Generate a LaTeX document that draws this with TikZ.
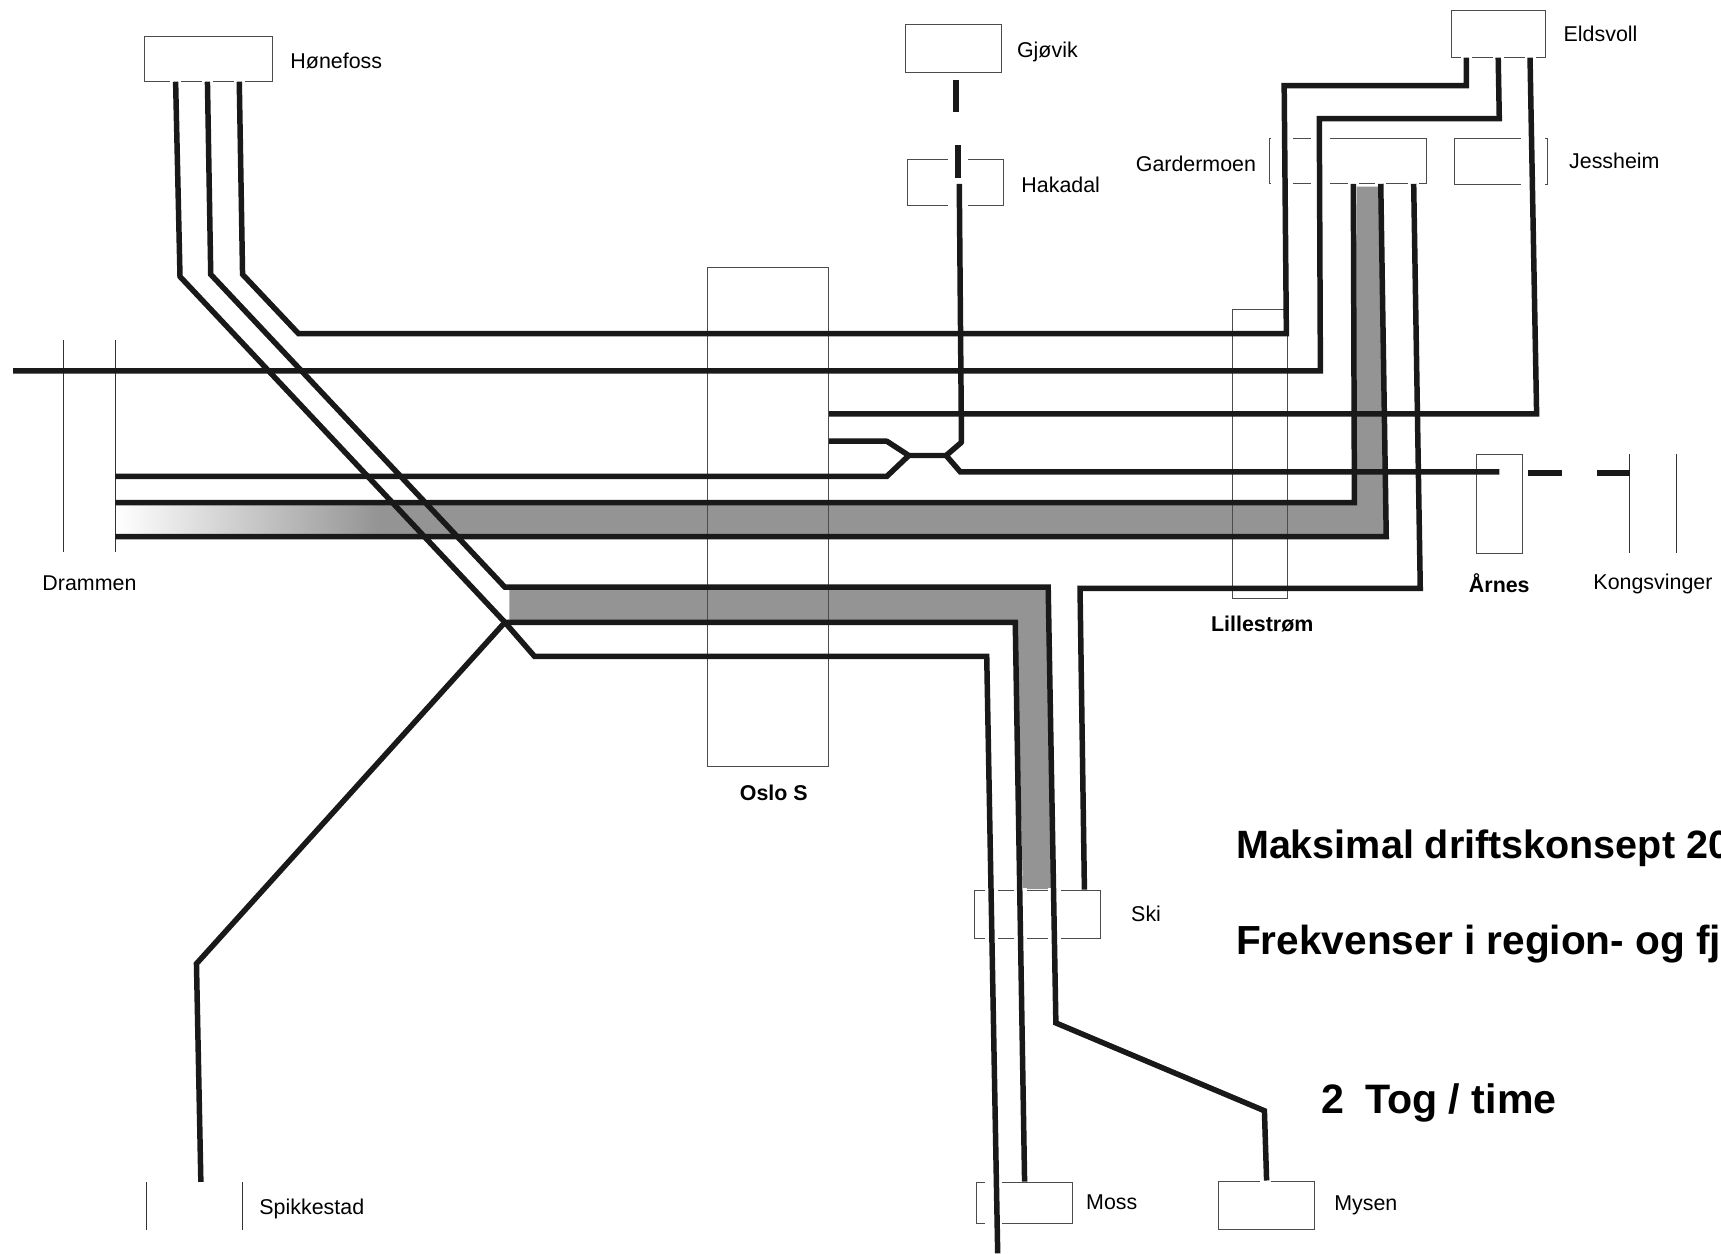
\documentclass[tikz,border=0pt]{standalone}
\usepackage{fontspec}
\setmainfont{Liberation Sans}
\usetikzlibrary{positioning,calc}

\begin{document}
\begin{tikzpicture}[
  x=1pt, y=-1pt,
  font=\fontsize{19.5}{23}\selectfont,
  stn/.style 2 args={draw=black!70, line width=0.9pt, rectangle, inner sep=0pt, minimum width=#1pt, minimum height=#2pt},
  stnopen/.style 2 args={rectangle, inner sep=0pt, minimum width=#1pt, minimum height=#2pt},
  stnside/.style={draw=black!80, line width=1pt},
  rail/.style={draw=black!90, line width=5pt},
  band/.style={fill=black!42},
  lbl/.style={inner sep=0pt},
  bold lbl/.style={inner sep=0pt, font=\fontsize{19.5}{23}\selectfont\bfseries},
  head/.style={inner sep=0pt, anchor=west, font=\fontsize{#1}{42}\selectfont\bfseries},
  node distance=16pt
]
\useasboundingbox (0,0) rectangle (1568,1142);

% gray double-track bands
\fill[band] (1236,170) -- (1258,170) -- (1263,487) -- (106,487) -- (106,460) -- (1234,460) -- cycle;
\shade[left color=white, right color=black!42] (106,460) rectangle (345,487);
\fill[band] (464,537) -- (955,537) -- (960,810) -- (932,810) -- (926,565) -- (464,565) -- cycle;

% stations
\node[stn={116}{41}] (honefoss) at (190,53.5) {};
\node[stn={87}{44}] (gjovik) at (868.5,44) {};
\node[stn={87}{42}] (hakadal) at (870.5,166) {};
\node[stn={86}{42}] (eldsvoll) at (1365,31) {};
\node[stn={143}{41}] (gardermoen) at (1228.5,146.5) {};
\node[stn={85}{42}] (jessheim) at (1367.5,147) {};
\node[stnopen={47}{193}] (drammen) at (81.5,406.5) {};
\node[stn={110}{454}] (oslos) at (700,471) {};
\node[stn={50}{263}] (lillestrom) at (1148,413.5) {};
\node[stn={42}{90}] (arnes) at (1366,459) {};
\node[stnopen={42}{90}] (kongsvinger) at (1506,459) {};
\node[stn={115}{44}] (ski) at (945.5,833) {};
\node[stn={87}{38}] (moss) at (933.5,1096) {};
\node[stn={88}{44}] (mysen) at (1154,1098) {};
\node[stnopen={87}{43}] (spikkestad) at (177.5,1098.5) {};

\draw[stnside] (drammen.north west) -- (drammen.south west);
\draw[stnside] (drammen.north east) -- (drammen.south east);
\draw[stnside] (kongsvinger.north west) -- (kongsvinger.south west);
\draw[stnside] (kongsvinger.north east) -- (kongsvinger.south east);
\draw[stnside] (spikkestad.north west) -- (spikkestad.south west);
\draw[stnside] (spikkestad.north east) -- (spikkestad.south east);

% breaks in the station edges where the lines pass
\foreach \x/\y/\w in {1168/126/10, 1168/167/10, 1203/126/9, 1203/167/9, 1233/167/5, 1258/167/5, 1288/167/5,
  1397/126/11, 1397/168/11, 873/145/9, 873/187/9, 1336/52/5, 1365/52/5, 1394/52/5,
  160/74/5, 189/74/5, 218/74/5, 903/811/6, 930/811/6, 961/811/6, 903/855/6, 930/855/6, 961/855/6,
  905/1077/8, 905/1115/8, 1153/1076/5}
  \fill[white] (\x-\w,\y-2) rectangle (\x+\w,\y+2);

% labels
\node[lbl, right=16pt of honefoss, yshift=-2pt] (honefosslbl) {Hønefoss};
\node[lbl, right=14pt of gjovik, yshift=-3pt] (gjoviklbl) {Gjøvik};
\node[lbl, right=16pt of hakadal, yshift=-2pt] (hakadallbl) {Hakadal};
\node[lbl, right=16pt of eldsvoll] (eldsvolllbl) {Eldsvoll};
\node[lbl, left=12pt of gardermoen, yshift=-3pt] (gardermoenlbl) {Gardermoen};
\node[lbl, right=19pt of jessheim] (jessheimlbl) {Jessheim};
\node[lbl, below=21pt of drammen] (drammenlbl) {Drammen};
\node[bold lbl, below=17pt of oslos, xshift=5pt] (osloslbl) {Oslo S};
\node[bold lbl, below=16pt of lillestrom, xshift=2pt] (lillestromlbl) {Lillestrøm};
\node[bold lbl, below=18pt of arnes] (arneslbl) {Årnes};
\node[lbl, below=19pt of kongsvinger] (kongsvingerlbl) {Kongsvinger};
\node[lbl, right=27pt of ski] (skilbl) {Ski};
\node[lbl, right=12pt of moss, yshift=1pt] (mosslbl) {Moss};
\node[lbl, right=17pt of mysen] (mysenlbl) {Mysen};
\node[lbl, right=15pt of spikkestad, yshift=-3pt] (spikkestadlbl) {Spikkestad};

\coordinate (split) at (460,567);
\coordinate (midw) at (828,415);
\coordinate (mide) at (862,415);

% lines from Hønefoss
\draw[rail] ($(honefoss.south)+(-30,0)$) -- (164,252) -- (split) -- (487,598) -- (899,598) -- (909,1142);
\draw[rail] ($(honefoss.south)+(-1,0)$) -- (192,250) -- (460,535) -- (955,535) -- (962,932) -- (1152,1012) -- (mysen.north);
\draw[rail] ($(honefoss.south)+(28,0)$) -- (221,250) -- (272,304) -- (1172,304) -- (1170,78) -- (1336,78) -- ($(eldsvoll.south)+(-29,0)$);

% lines from Eldsvoll
\draw[rail] (eldsvoll.south) -- (1366,108) -- (1202,108) -- (1203,338) -- (12,338);
\draw[rail] ($(eldsvoll.south)+(29,0)$) -- (1400,377) -- (oslos.east |- 0,377);

% lines from Gardermoen
\draw[rail] ($(gardermoen.south)+(4.5,0)$) -- (1234,458) -- (drammen.east |- 0,458);
\draw[rail] ($(gardermoen.south)+(29.5,0)$) -- (1263,489) -- (drammen.east |- 0,489);
\draw[rail] ($(gardermoen.south)+(59.5,0)$) -- (1294,536) -- (984,536) -- ($(ski.north)+(42.5,0)$);

% Gjøvik and Hakadal
\draw[rail] ($(gjovik.south)+(2.5,6)$) -- ($(gjovik.south)+(2.5,36)$);
\draw[rail] ($(hakadal.north)+(2.5,-12)$) -- ($(hakadal.north)+(2.5,18)$);
\draw[rail, line join=bevel] ($(hakadal.north)+(3.5,23)$) -- (876,403) -- (mide) -- (midw) -- (808,402) -- (oslos.east |- 0,402);
\draw[rail] (midw) -- (808,434) -- (drammen.east |- 0,434);
\draw[rail] (mide) -- (875,430) -- (arnes.center |- 0,430);
\draw[rail] (1392,431) -- (1423,431);
\draw[rail] (1455,431) -- (kongsvinger.west |- 0,431);

% Spikkestad and Moss
\draw[rail] (split) -- (179,878) -- ($(spikkestad.north)+(5.5,0)$);
\draw[rail] (split) -- (925,567) -- (moss.north);

% heading
\node[head=36] (konsept) at (1126,773) {Maksimal driftskonsept 20};
\node[head=37] (frekvens) at (1126,860) {Frekvenser i region- og fj};
\node[head=37.5] (tog) at (1204,1005) {2\,\,\,Tog / time};

\end{tikzpicture}
\end{document}
